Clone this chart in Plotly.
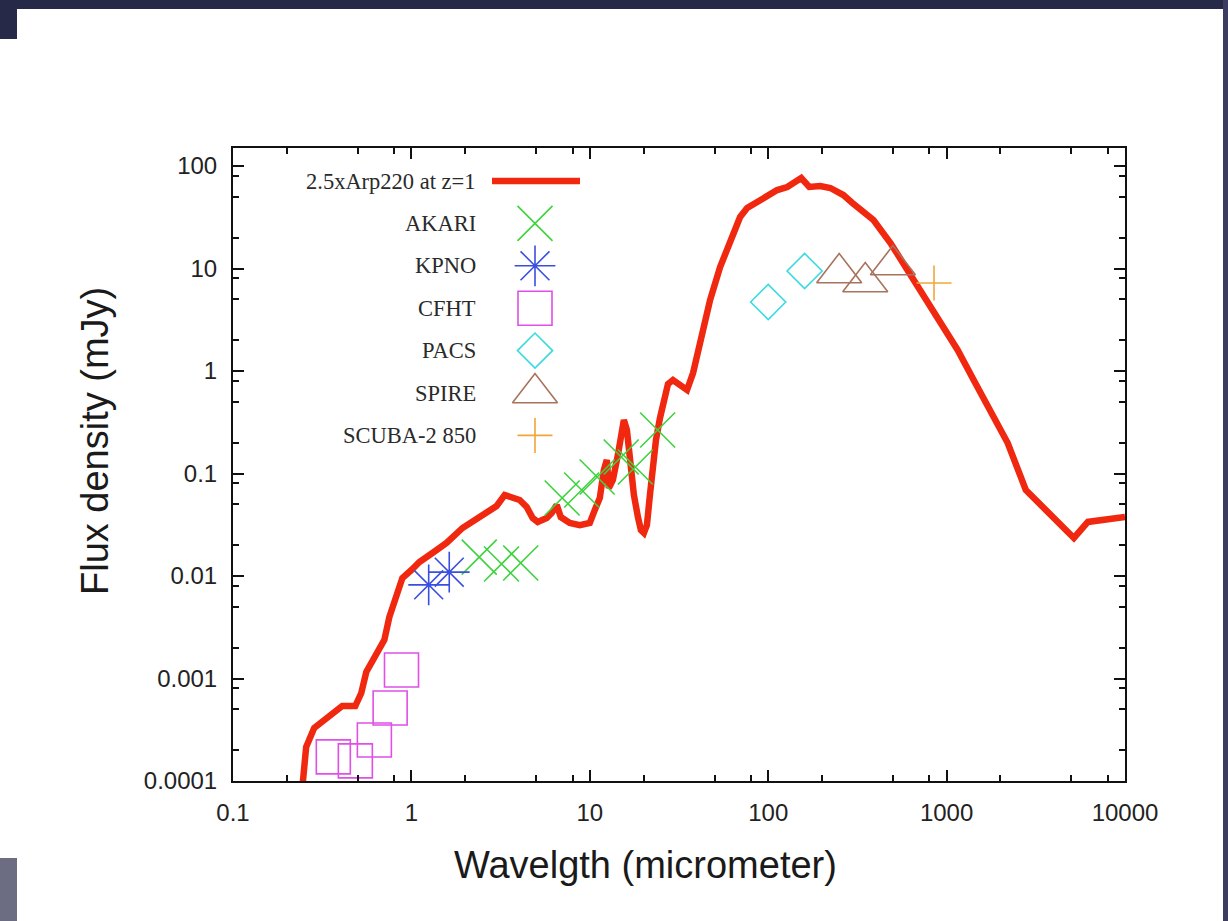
import plotly.graph_objects as go

# ---------------- data ----------------
# SED model: 2.5 x Arp220 shifted to z=1 (wavelength in micrometer, flux in mJy)
sed_wavelength = [0.244, 0.2505, 0.2571, 0.2851, 0.3373, 0.4097, 0.4846, 0.5237, 0.5587,
                  0.6357, 0.7054, 0.7522, 0.8235, 0.890, 1.0, 1.109, 1.312, 1.573, 1.934,
                  2.410, 2.743, 3.003, 3.331, 3.646, 4.045, 4.428, 4.784, 5.105, 5.734,
                  6.117, 6.527, 6.873, 7.720, 8.786, 10.0, 10.67, 11.38, 11.99, 12.46,
                  12.79, 13.47, 14.37, 14.94, 15.52, 16.14, 16.78, 17.67, 18.61, 19.34,
                  20.11, 20.90, 21.73, 22.59, 23.49, 24.74, 26.04, 27.43, 29.26, 32.04,
                  35.07, 37.91, 41.50, 47.23, 53.75, 61.16, 69.60, 76.21, 90.16, 112.3,
                  127.9, 138.1, 153.2, 169.9, 195.9, 223.0, 263.8, 296.5, 337.5, 389.0,
                  484.6, 603.9, 742.8, 925.3, 1153, 1418, 1767, 2201, 2779, 3373, 5170,
                  6194, 10000]
sed_flux = [8.2e-5, 1.60e-4, 2.15e-4, 3.29e-4, 4.12e-4, 5.39e-4, 5.39e-4, 7.22e-4, 1.16e-3,
            1.77e-3, 2.38e-3, 3.98e-3, 6.83e-3, 9.56e-3, 0.01144, 0.0137, 0.01677, 0.0210,
            0.0294, 0.0376, 0.0421, 0.0482, 0.0617, 0.0590, 0.0551, 0.0471, 0.0368, 0.0337,
            0.0368, 0.0412, 0.0493, 0.0376, 0.0329, 0.0314, 0.0329, 0.0441, 0.0577, 0.1081,
            0.1354, 0.0722, 0.0864, 0.1515, 0.254, 0.333, 0.2657, 0.1294, 0.0617, 0.0376,
            0.0281, 0.0263, 0.0314, 0.0617, 0.1294, 0.2122, 0.348, 0.545, 0.746, 0.817,
            0.714, 0.653, 0.956, 2.006, 4.93, 10.34, 18.97, 31.8, 38.9, 46.6, 58.3, 62.4,
            68.3, 76.4, 62.4, 63.8, 61.0, 52.1, 43.6, 35.6, 29.7, 17.74, 9.66, 5.77, 3.146,
            1.603, 0.817, 0.4165, 0.1984, 0.0690, 0.0493, 0.0235, 0.0337, 0.0376]

akari_wavelength = [2.4, 3.2, 4.1, 7.0, 9.0, 11.0, 15.0, 18.0, 24.0]
akari_flux = [0.0153, 0.0131, 0.0134, 0.0577, 0.069, 0.0925, 0.145, 0.1156, 0.266]
kpno_wavelength = [1.25, 1.63]
kpno_flux = [0.0082, 0.0109]
cfht_wavelength = [0.365, 0.485, 0.62, 0.76, 0.88]
cfht_flux = [0.000172, 0.000157, 0.000251, 0.000515, 0.00121]
pacs_wavelength = [100, 160]
pacs_flux = [4.71, 9.45]
spire_wavelength = [250, 350, 500]
spire_flux = [9.04, 7.38, 10.8]
scuba_wavelength = [850]
scuba_flux = [7.22]

x_tick_vals = [0.1, 1, 10, 100, 1000, 10000]
x_tick_text = ["0.1", "1", "10", "100", "1000", "10000"]
y_tick_vals = [0.0001, 0.001, 0.01, 0.1, 1, 10, 100]
y_tick_text = ["0.0001", "0.001", "0.01", "0.1", "1", "10", "100"]

legend_labels = ["2.5xArp220 at z=1", "AKARI", "KPNO", "CFHT", "PACS", "SPIRE", "SCUBA-2 850"]

# ---------------- styling / layout ----------------
W, H = 1228, 921
PL, PR, PT, PB = 233, 1125, 148, 781     # plot area in pixels
RED = "#f0280f"
GREEN = "#3fd23f"
BLUE = "#3a4fe0"
MAGENTA = "#e04fe6"
CYAN = "#3adbe0"
BROWN = "#a8735c"
ORANGE = "#f2a63a"
NAVY = "#272948"


def px_x(px):
    return (px - PL) / (PR - PL)


def px_y(py):
    return (PB - py) / (PB - PT)


def minor_vals(lo_exp, hi_exp):
    out = []
    for e in range(lo_exp, hi_exp + 1):
        for m in (2, 5, 8):
            out.append(m * 10 ** e)
    return out


fig = go.Figure()

fig.add_trace(go.Scatter(x=sed_wavelength, y=sed_flux, mode="lines",
                         line=dict(color=RED, width=6.5), showlegend=False))

SYM = {
    "AKARI": ("x-thin", 35, GREEN),
    "KPNO": ("asterisk", 34, BLUE),
    "CFHT": ("square-open", 34, MAGENTA),
    "PACS": ("diamond-open", 27, CYAN),
    "SPIRE": ("triangle-up-open", 39, BROWN),
    "SCUBA": ("cross-thin", 25, ORANGE),
}


def add_points(xs, ys, key, lw=1.6, **kw):
    sym, size, color = SYM[key]
    fig.add_trace(go.Scatter(x=xs, y=ys, mode="markers", showlegend=False,
                             marker=dict(symbol=sym, size=size, color=color,
                                         line=dict(color=color, width=lw)), **kw))


add_points(akari_wavelength, akari_flux, "AKARI")
add_points(kpno_wavelength, kpno_flux, "KPNO")
add_points(cfht_wavelength, cfht_flux, "CFHT")
add_points(pacs_wavelength, pacs_flux, "PACS")
add_points(spire_wavelength, spire_flux, "SPIRE")
add_points(scuba_wavelength, scuba_flux, "SCUBA")

# ---------- custom (gnuplot-style) key: text right-aligned, sample on the right ----------
key_text_x = px_x(478)
key_sample_x = px_x(535)
key_row0 = 181
key_step = 42.4
row_y = [px_y(key_row0 + i * key_step) for i in range(len(legend_labels))]

fig.add_trace(go.Scatter(x=[px_x(492), px_x(580)], y=[row_y[0], row_y[0]], mode="lines",
                         line=dict(color=RED, width=6.5), xaxis="x2", yaxis="y2",
                         showlegend=False, hoverinfo="skip"))
for i, key in enumerate(["AKARI", "KPNO", "CFHT", "PACS", "SPIRE", "SCUBA"]):
    add_points([key_sample_x], [row_y[i + 1]], key, xaxis="x2", yaxis="y2", hoverinfo="skip")

annotations = []
for lab, yy in zip(legend_labels, row_y):
    annotations.append(dict(x=key_text_x, y=yy, xref="paper", yref="paper", text=lab,
                            showarrow=False, xanchor="right", yanchor="middle",
                            font=dict(family="Liberation Serif", size=22.5, color="#2a2a2a")))

annotations.append(dict(x=px_x(645), y=px_y(865), xref="paper", yref="paper",
                        text="Wavelgth (micrometer)", showarrow=False,
                        xanchor="center", yanchor="middle",
                        font=dict(family="Liberation Sans", size=38, color="#1a1a1a")))
annotations.append(dict(x=px_x(95), y=px_y(441), xref="paper", yref="paper",
                        text="Flux density (mJy)", showarrow=False, textangle=-90,
                        xanchor="center", yanchor="middle",
                        font=dict(family="Liberation Sans", size=38, color="#1a1a1a")))

# ---------- slide-frame decoration (screenshot border) ----------
def rect(x0, y0, x1, y1, color):
    return dict(type="rect", xref="paper", yref="paper", x0=px_x(x0), x1=px_x(x1),
                y0=px_y(y1), y1=px_y(y0), fillcolor=color, line=dict(width=0),
                layer="above")


shapes = [
    rect(0, 0, W, 9, NAVY),
    rect(0, 0, 17, 39, NAVY),
    rect(1223, 0, W, H, "#3c3d5e"),
    rect(0, 858, 17, H, "#6c6c82"),
]

axis_common = dict(type="log", showline=True, linecolor="#111", linewidth=2, mirror="ticks",
                   ticks="inside", ticklen=11, tickwidth=2, tickcolor="#111",
                   showgrid=False, zeroline=False,
                   tickfont=dict(family="Liberation Sans", size=24, color="#222"))

fig.update_layout(
    width=W, height=H,
    margin=dict(l=PL, r=W - PR, t=PT, b=H - PB),
    paper_bgcolor="white", plot_bgcolor="white",
    showlegend=False,
    xaxis=dict(range=[-1, 4], tickvals=x_tick_vals, ticktext=x_tick_text,
               ticklabelstandoff=9,
               minor=dict(tickmode="array", tickvals=minor_vals(-1, 3), ticks="inside",
                          ticklen=6, tickwidth=1.5, tickcolor="#111"),
               **axis_common),
    yaxis=dict(range=[-4, 2 + (166 - PT) / 102.5], tickvals=y_tick_vals, ticktext=y_tick_text,
               ticklabelstandoff=9,
               minor=dict(tickmode="array", tickvals=minor_vals(-4, 1), ticks="inside",
                          ticklen=6, tickwidth=1.5, tickcolor="#111"),
               **axis_common),
    xaxis2=dict(range=[0, 1], overlaying="x", visible=False, fixedrange=True),
    yaxis2=dict(range=[0, 1], overlaying="y", visible=False, fixedrange=True),
    annotations=annotations,
    shapes=shapes,
)

fig.write_html("out.html", config={"displayModeBar": False},
               post_script="document.body.style.margin='0px';"
                           "document.body.style.overflow='hidden';")
